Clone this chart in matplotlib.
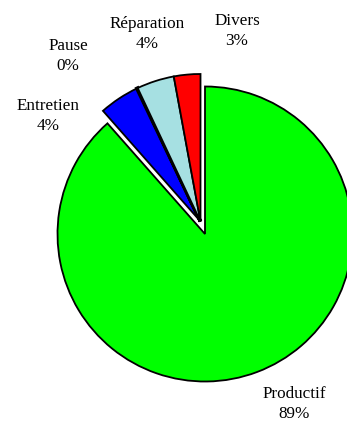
import matplotlib
matplotlib.use("Agg")
import matplotlib.pyplot as plt

# data
categories = ["Productif", "Entretien", "Pause", "Réparation", "Divers"]
values = [88.5, 4.4, 0.1, 4.1, 2.9]
pct_labels = ["89%", "4%", "0%", "4%", "3%"]
colors = ["#00ff00", "#0000ff", "#ffffff", "#a6e0e2", "#ff0000"]

# layout (pixels, from top-left of the 347x421 image)
W, H = 347, 421
cx, cy, r_px = 205, 234, 147.5
shift_px = (-4.5, -12.5)   # small slices are pulled out together
label_pos = [(294, 404), (48, 116), (68, 56), (147, 34), (237, 31)]

plt.rcParams["font.family"] = ["Liberation Serif", "DejaVu Serif"]

fig = plt.figure(figsize=(W / 100, H / 100), dpi=100)
ax = fig.add_axes([0, 0, 1, 1])

wedges, _ = ax.pie(values, colors=colors, startangle=90, counterclock=False,
                   radius=1, wedgeprops=dict(edgecolor="black", linewidth=1.3))

# move the small slices together, away from the big one
dx, dy = shift_px[0] / r_px, -shift_px[1] / r_px
for w in wedges[1:]:
    w.set_center((dx, dy))
wedges[2].set_linewidth(2.6)

ax.set_aspect("auto")
ax.set_xlim(-cx / r_px, (W - cx) / r_px)
ax.set_ylim(-(H - cy) / r_px, cy / r_px)
ax.axis("off")

for name, pct, (px, py) in zip(categories, pct_labels, label_pos):
    fig.text(px / W, 1 - py / H, name + "\n" + pct, ha="center", va="center",
             fontsize=12.3, linespacing=1.32)

fig.savefig("out.png", dpi=100)
